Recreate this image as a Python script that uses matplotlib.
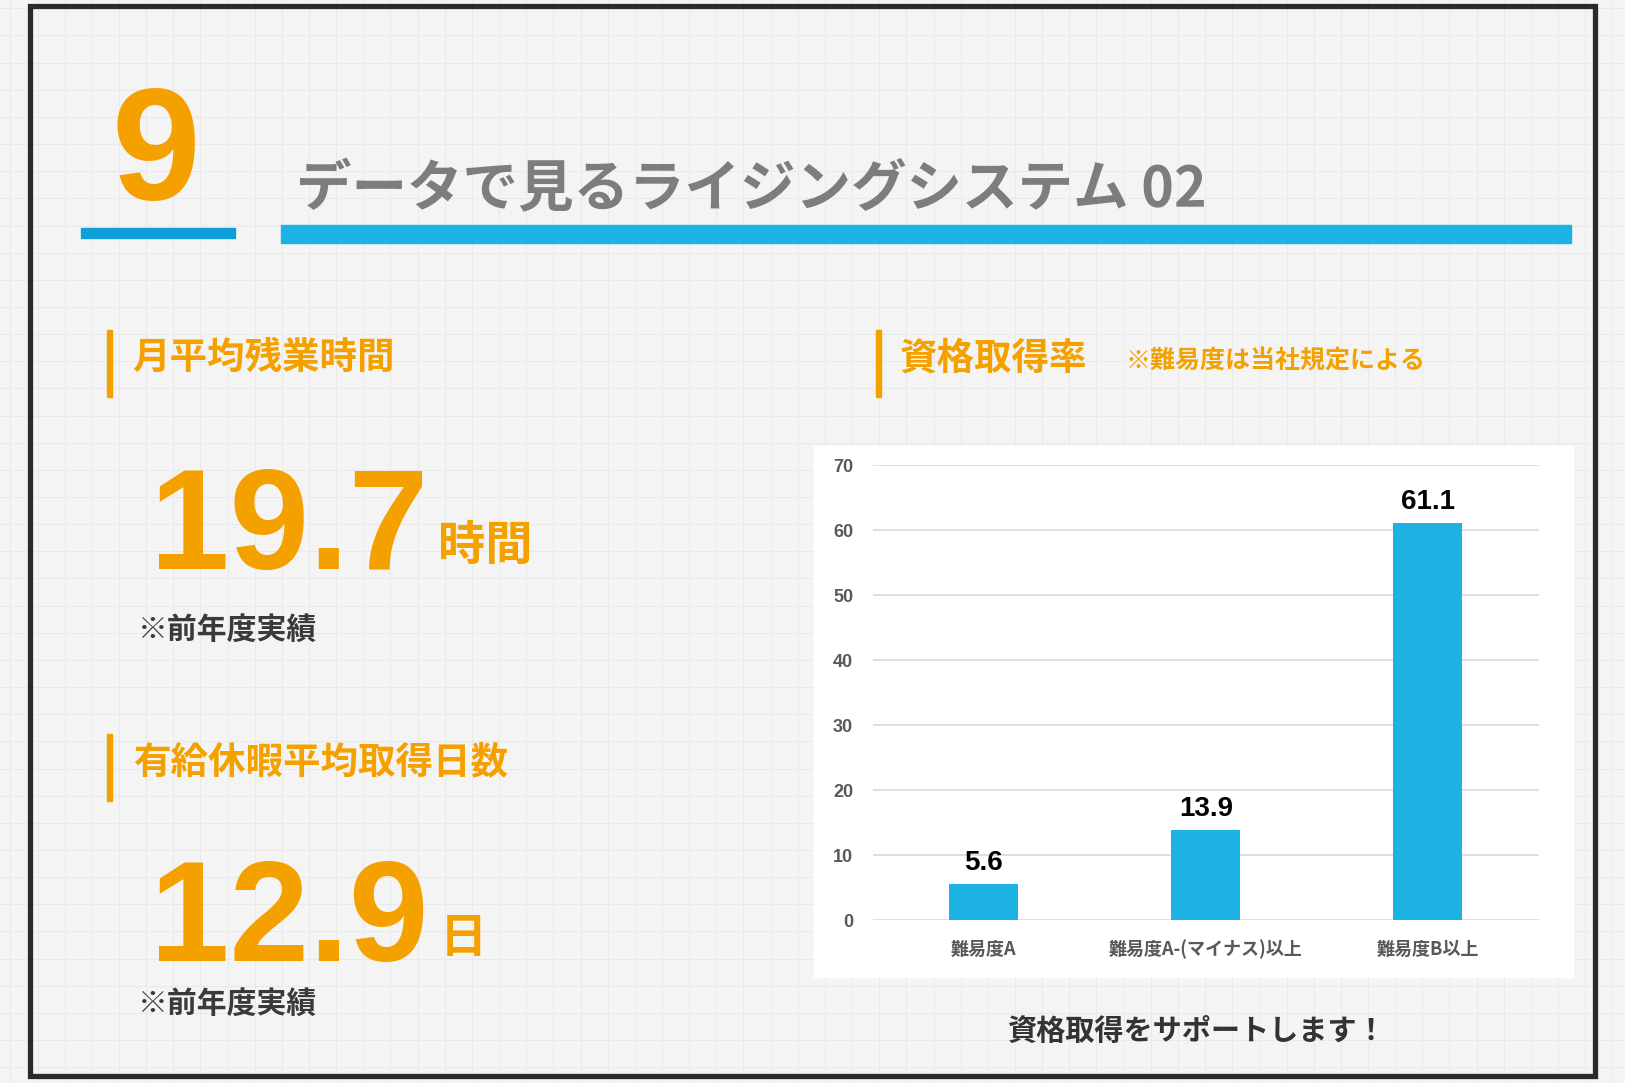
import matplotlib
matplotlib.use("Agg")
import matplotlib.pyplot as plt
from matplotlib.patches import Rectangle
import numpy as np

plt.rcParams['font.family'] = ['Noto Sans CJK JP', 'DejaVu Sans']

# ---- data ----
categories = ["難易度A", "難易度A-(マイナス)以上", "難易度B以上"]
rates = [5.6, 13.9, 61.1]
y_ticks = [0, 10, 20, 30, 40, 50, 60, 70]
overtime_value = "19.7"
overtime_unit = "時間"
leave_value = "12.9"
leave_unit = "日"
section_number = "9"
title_text = "データで見るライジングシステム 02"
label_overtime = "月平均残業時間"
label_leave = "有給休暇平均取得日数"
label_cert = "資格取得率"
note_cert = "※難易度は当社規定による"
note_prev = "※前年度実績"
footer = "資格取得をサポートします！"

ORANGE = '#f4a100'
BLUE = '#1cb2e4'
BLUE_DARK = '#0e9ed8'

W, H = 1568.0, 1045.0  # reference layout coordinate space


def fx(x):
    return x / W


def fy(y):
    return 1 - y / H


fig = plt.figure(figsize=(16.25, 10.83), dpi=100)
fig.patch.set_facecolor('#f4f4f4')

# background paper grid
bg = fig.add_axes([0, 0, 1, 1])
bg.set_xlim(0, W)
bg.set_ylim(H, 0)
bg.axis('off')
step = 26.2
for gx in np.arange(10, W, step):
    bg.axvline(gx, color='#e9e9e9', lw=0.7, zorder=0)
for gy in np.arange(8, H, step):
    bg.axhline(gy, color='#e9e9e9', lw=0.7, zorder=0)

# frame
bg.add_patch(Rectangle((29, 6), 1510, 1032, fill=False, edgecolor='#2a2a2a', lw=3.8, zorder=2))

# blue lines
bg.add_patch(Rectangle((78, 220), 149, 10, color=BLUE_DARK, zorder=2))
bg.add_patch(Rectangle((271, 217), 1245, 17, color=BLUE, zorder=2))

# orange vertical bars
for (bx, by) in [(103, 318), (103, 708), (845, 318)]:
    bg.add_patch(Rectangle((bx, by), 5, 65, color=ORANGE, zorder=2))

# white chart panel
bg.add_patch(Rectangle((785, 430), 733, 513, color='white', zorder=1))

# big number 9
fig.text(fx(108), fy(192), section_number, fontsize=115, fontweight='bold', color=ORANGE,
         family=['Liberation Sans Narrow', 'Liberation Sans'], ha='left', va='baseline')

# title
fig.text(fx(286), fy(184), title_text, fontsize=40, fontweight='bold', color='#7d7d7d',
         ha='left', va='center')

# left section labels
fig.text(fx(128), fy(345), label_overtime, fontsize=27, fontweight='bold', color=ORANGE,
         ha='left', va='center')
fig.text(fx(128), fy(735), label_leave, fontsize=27, fontweight='bold', color=ORANGE,
         ha='left', va='center')

# big values
fig.text(fx(145), fy(549), overtime_value, fontsize=103, fontweight='bold', color=ORANGE,
         family=['Liberation Sans', 'DejaVu Sans'], ha='left', va='baseline')
fig.text(fx(423), fy(527), overtime_unit, fontsize=34, fontweight='bold', color=ORANGE,
         ha='left', va='center')
fig.text(fx(145), fy(927), leave_value, fontsize=103, fontweight='bold', color=ORANGE,
         family=['Liberation Sans', 'DejaVu Sans'], ha='left', va='baseline')
fig.text(fx(424), fy(905), leave_unit, fontsize=34, fontweight='bold', color=ORANGE,
         ha='left', va='center')

fig.text(fx(133), fy(608), note_prev, fontsize=21.5, fontweight='bold', color='#3a3a3a',
         ha='left', va='center')
fig.text(fx(133), fy(969), note_prev, fontsize=21.5, fontweight='bold', color='#3a3a3a',
         ha='left', va='center')

# right section label
fig.text(fx(868), fy(345), label_cert, fontsize=27, fontweight='bold', color=ORANGE,
         ha='left', va='center')
fig.text(fx(1086), fy(349), note_cert, fontsize=18, fontweight='bold', color=ORANGE,
         ha='left', va='center')

fig.text(fx(1155), fy(995), footer, fontsize=21, fontweight='bold', color='#333333',
         ha='center', va='center')

# bar chart
ax = fig.add_axes([fx(842), fy(888), fx(1485) - fx(842), fy(449) - fy(888)])
ax.patch.set_alpha(0)
x = np.arange(len(categories))
ax.bar(x, rates, width=0.31, color=BLUE, zorder=3)
ax.set_xlim(-0.5, 2.5)
ax.set_ylim(0, 70)
ax.set_yticks(y_ticks)
ax.yaxis.grid(True, color='#d9d9d9', lw=1.2, zorder=0)
for s in ax.spines.values():
    s.set_visible(False)
ax.tick_params(axis='both', length=0)
ax.tick_params(axis='y', pad=14, labelsize=13, labelcolor='#595959')
ax.tick_params(axis='x', pad=14, labelsize=13, labelcolor='#595959')
ax.set_xticks(x)
ax.set_xticklabels(categories)
for t in ax.get_xticklabels():
    t.set_fontweight('bold')
for t in ax.get_yticklabels():
    t.set_family(['Liberation Sans Narrow', 'Liberation Sans'])
    t.set_fontweight('bold')
for xi, v in zip(x, rates):
    ax.annotate(f"{v}", (xi, v), xytext=(0, 6), textcoords='offset points',
                ha='center', va='bottom', fontsize=20, fontweight='bold', color='black',
                family=['Liberation Sans', 'DejaVu Sans'])

fig.savefig('out.png', dpi=100, facecolor=fig.get_facecolor())
